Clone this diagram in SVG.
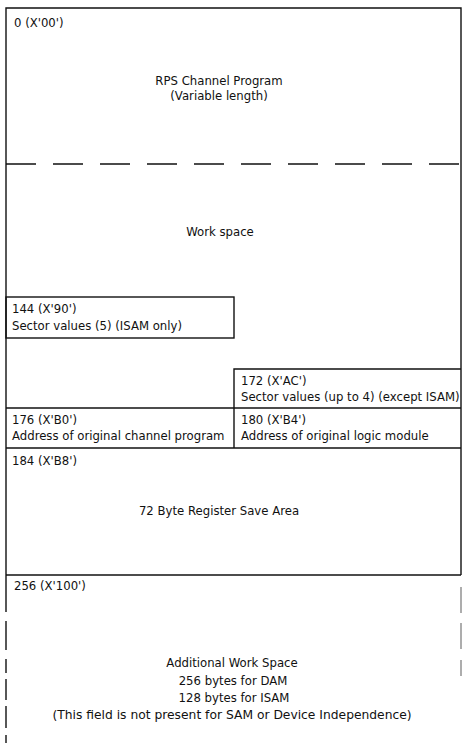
<svg xmlns="http://www.w3.org/2000/svg" width="463" height="743" viewBox="0 0 463 743">
<style>
.t{font-family:"DejaVu Sans","Liberation Sans",Arial,sans-serif;font-size:11.7px;fill:#111}
.m{text-anchor:middle}
.w{font-size:12.3px}
.ln{stroke:#111;stroke-width:1.4;fill:none}
.fa{stroke:#777;stroke-width:1.2;fill:none}
</style>
<rect width="463" height="743" fill="#fff"/>
<g id="rps-channel-program">
<path class="ln" d="M6,575 V8 H461 V575"/>
<text class="t" x="14" y="27">0 (X'00')</text>
<text class="t m" x="219" y="85">RPS Channel Program</text>
<text class="t m" x="219" y="100">(Variable length)</text>
</g>
<g id="connectors">
<line class="ln" x1="6" y1="164" x2="461" y2="164" stroke-dasharray="30 17" stroke-dashoffset="0"/>
</g>
<g id="work-space">
<text class="t m" x="220" y="236">Work space</text>
</g>
<g id="sector-values-isam">
<rect class="ln" x="6" y="297" width="228" height="41"/>
<text class="t" x="12" y="313">144 (X'90')</text>
<text class="t" x="12" y="330">Sector values (5) (ISAM only)</text>
</g>
<g id="sector-values-except-isam">
<path class="ln" d="M234,408 V369 H461"/>
<text class="t" x="241" y="385">172 (X'AC')</text>
<text class="t" x="241" y="401">Sector values (up to 4) (except ISAM)</text>
</g>
<g id="address-channel-program">
<line class="ln" x1="6" y1="408" x2="461" y2="408"/>
<text class="t" x="12" y="424">176 (X'B0')</text>
<text class="t" x="12" y="440">Address of original channel program</text>
</g>
<g id="address-logic-module">
<line class="ln" x1="234" y1="408" x2="234" y2="448"/>
<text class="t" x="241" y="424">180 (X'B4')</text>
<text class="t" x="241" y="440">Address of original logic module</text>
</g>
<g id="register-save-area">
<line class="ln" x1="6" y1="448" x2="461" y2="448"/>
<text class="t" x="12" y="465">184 (X'B8')</text>
<text class="t m" x="219" y="515">72 Byte Register Save Area</text>
</g>
<g id="additional-work-space">
<line class="ln" x1="6" y1="575" x2="461" y2="575"/>
<path class="ln" d="M6,575 V612 M6,621 V650 M6,659 V673 M6,679 V700 M6,706 V728 M6,735 V743"/>
<path class="fa" d="M461,587 V613 M461,623 V649 M461,660 V676"/>
<text class="t" x="14" y="590">256 (X'100')</text>
<text class="t m" x="232" y="667">Additional Work Space</text>
<text class="t m" x="233" y="685">256 bytes for DAM</text>
<text class="t m" x="234" y="702">128 bytes for ISAM</text>
<text class="t m w" x="232" y="719">(This field is not present for SAM or Device Independence)</text>
</g>
</svg>
